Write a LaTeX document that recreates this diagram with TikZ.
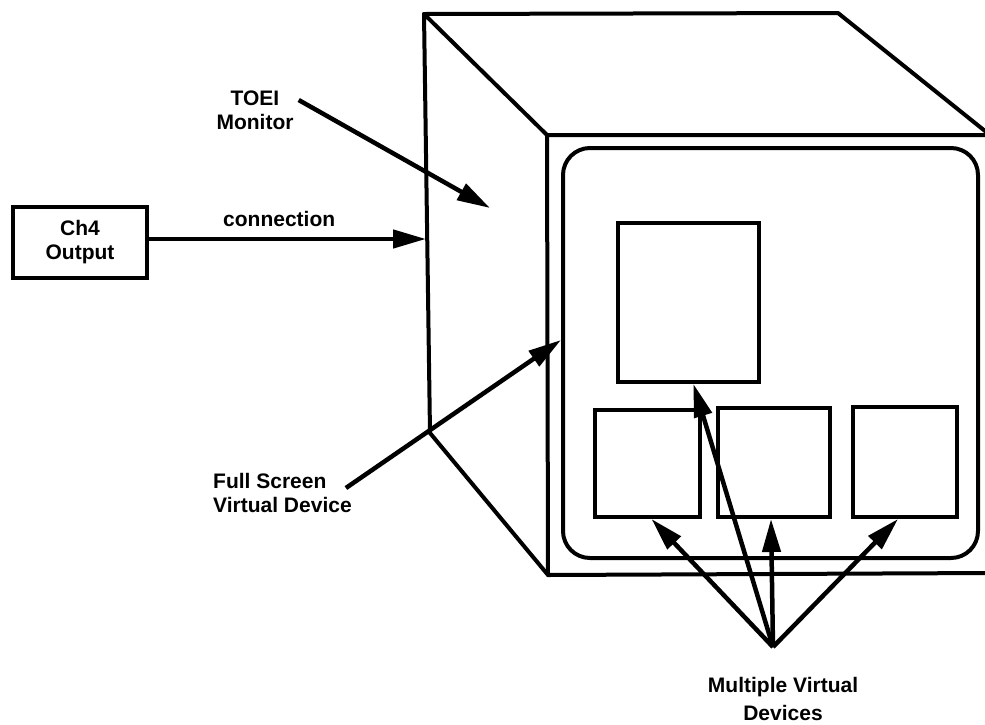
\documentclass[tikz,border=0pt]{standalone}
\usepackage{fontspec}
\setmainfont{Liberation Sans}
\usepackage{tikz}
\usetikzlibrary{positioning, arrows.meta, calc}
\tikzset{
  edge line/.style={line width=4pt, line join=round, line cap=round},
  vdev/.style={draw, line width=4pt, inner sep=0pt},
  screen/.style={vdev, rounded corners=27pt},
  pointer/.style={line width=4.5pt, -{Triangle[length=33pt, width=18pt]}},
  caption/.style={font=\fontsize{21}{24}\selectfont\bfseries, align=center, inner sep=0pt},
}

\begin{document}
\begin{tikzpicture}[x=1pt, y=-1pt]
  \useasboundingbox (0,0) rectangle (985,724);
  \clip (0,0) rectangle (985,724);

  % monitor cube
  \coordinate (BTL) at (424,14);
  \coordinate (BTR) at (838,13);
  \coordinate (BBL) at (430,433);
  \coordinate (FTL) at (547,135);
  \coordinate (FTR) at (990,135);
  \coordinate (FBL) at (548,575);
  \coordinate (FBR) at (990,573);
  \draw[edge line] (BBL) -- (BTL) -- (BTR) -- (FTR);
  \draw[edge line] (BTL) -- (FTL) -- (FTR);
  \draw[edge line] (FTL) -- (FBL) -- (FBR);
  \draw[edge line] (BBL) -- (FBL);

  % screen and virtual devices
  \node[screen, minimum width=415pt, minimum height=410pt] (scr) at (770.5,353) {};
  \node[vdev, minimum width=141pt, minimum height=159pt] (big) at (688.5,302.5) {};
  \node[vdev, minimum width=105pt, minimum height=107pt] (vd1) at (647.5,463.5) {};
  \node[vdev, minimum width=112pt, minimum height=109pt] (vd2) at (774,462.5) {};
  \node[vdev, minimum width=104pt, minimum height=110pt] (vd3) at (905,462) {};

  % source box
  \node[vdev, caption, minimum width=134pt, minimum height=71pt] (ch4) at (80,242.5) {Ch4\\Output};
  \coordinate (inlet) at (426,239);
  \draw[pointer] (ch4.east |- inlet) -- node[caption, above=10pt, pos=0.47]{connection} (inlet);

  % labels
  \node[caption] (toei) at (255,110) {TOEI\\Monitor};
  \coordinate (toeitip) at (490,208);
  \draw[pointer] ([shift={(5pt,10pt)}]toei.east) -- (toeitip);

  \node[caption, align=left, anchor=west] (fsvd) at (213,493) {Full Screen\\Virtual Device};
  \draw[pointer] ([shift={(-6pt,5pt)}]fsvd.east) -- ([yshift=13pt]scr.west);

  \node[caption, font=\fontsize{21}{28}\selectfont\bfseries] (mvd) at (783,699) {Multiple Virtual\\Devices};
  \coordinate (apex) at (773,647);
  \draw[pointer] (apex) -- ([xshift=5pt]big.south);
  \draw[pointer] (apex) -- ([xshift=4pt]vd1.south);
  \draw[pointer] (apex) -- ([xshift=-3pt]vd2.south);
  \draw[pointer] (apex) -- ([xshift=-7pt]vd3.south);
\end{tikzpicture}
\end{document}
